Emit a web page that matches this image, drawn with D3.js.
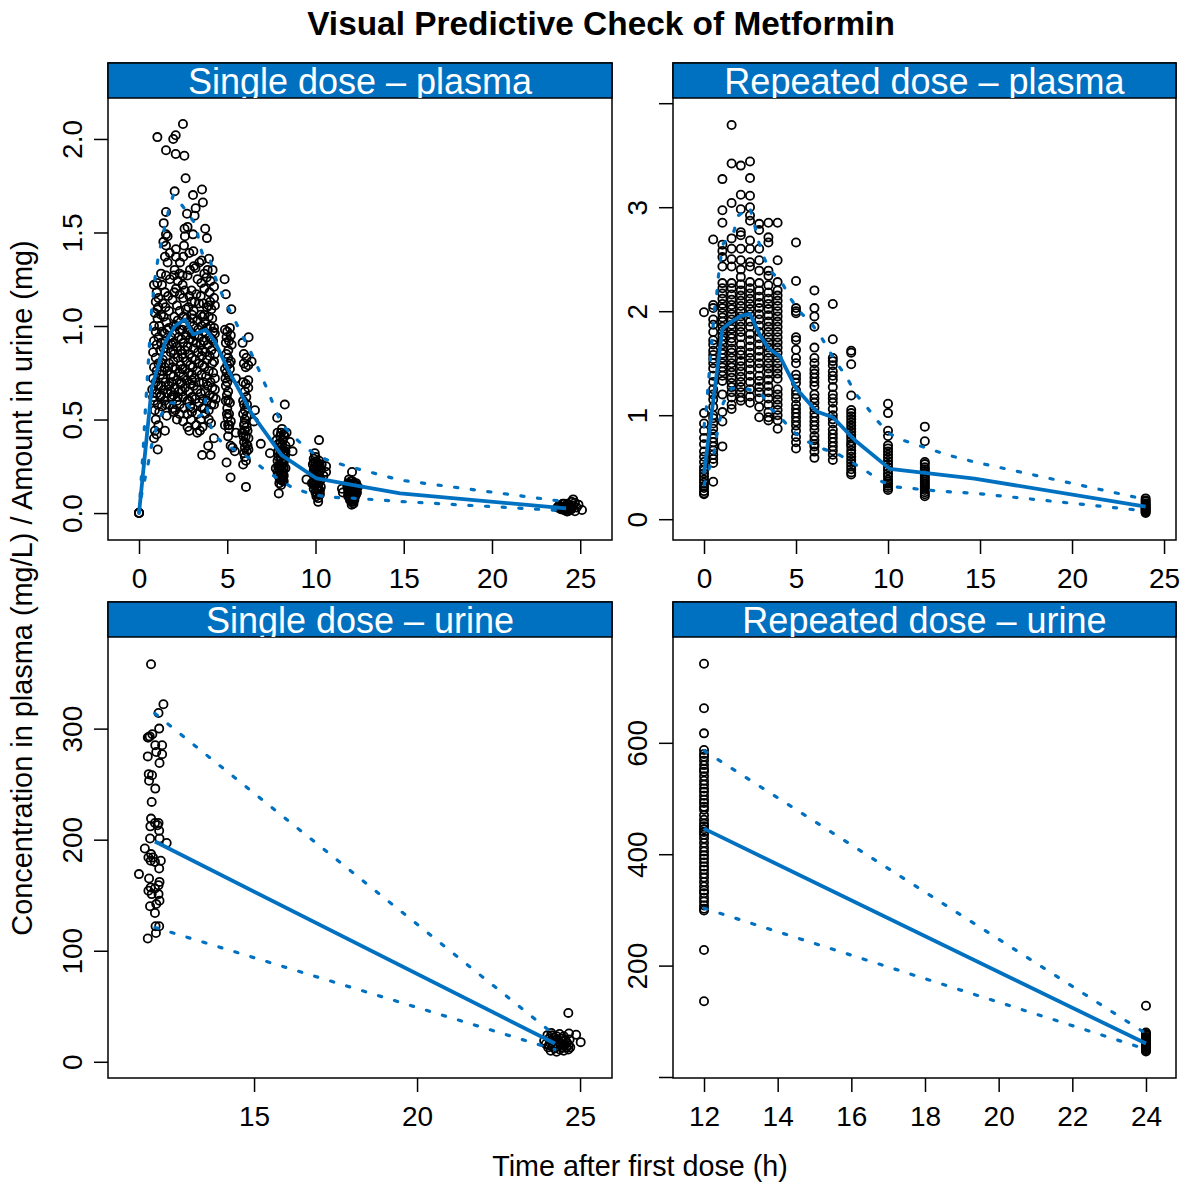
<!DOCTYPE html>
<html>
<head>
<meta charset="utf-8">
<script src="https://cdn.jsdelivr.net/npm/d3@7"></script>
<style>
  html, body { margin: 0; padding: 0; background: #fff; }
  text { font-family: "Liberation Sans", Arial, sans-serif; fill: #000; }
</style>
</head>
<body>
<svg id="chart" width="1186" height="1182"></svg>
<script>
const singlePlasmaObs = [
  [0,0],[0,0],[0,.002],[0,0],
  [2.49,2.08],[1.04,2.01],[2.08,2.02],[1.94,2.0],[1.53,1.94],[2.08,1.92],[2.57,1.91],[2.64,1.79],[2.02,1.72],[3.57,1.73],
  [3.06,1.7],[3.62,1.66],[3.21,1.63],[2.72,1.6],[3.15,1.59],[1.53,1.61],[1.4,1.55],[2.58,1.52],[2.75,1.53],[3.75,1.52],
  [3.06,1.49],[1.53,1.49],[1.62,1.48],[2.6,1.48],[3.85,1.47],[1.38,1.45],[1.53,1.43],[2.55,1.43],[2.09,1.41],[3.08,1.4],
  [2.85,1.39],[1.75,1.39],[1.47,1.37],[2.09,1.37],[2.51,1.37],[3.96,1.36],[3.55,1.35],[3.42,1.34],[2.32,1.34],[1.62,1.34],
  [3.11,1.32],[2.89,1.3],[2.02,1.3],[3.89,1.3],[4.17,1.3],[1.25,1.28],[1.53,1.27],[2.47,1.27],[1.98,1.27],[4.85,1.25],
  [3.32,1.25],[3.83,1.26],[1.04,1.23],[2.2,1.24],[2.47,1.22],[3.53,1.23],[4.25,1.21],[2.1,1.2],[3.7,1.2],[4.92,1.17],
  [1.47,1.18],[4.0,1.18],[2.32,1.17],[2.98,1.19],[3.25,1.17],[1.1,1.15],[2.5,1.15],[3.5,1.16],[4.25,1.15],[1.9,1.14],
  [4.03,1.13],[2.98,1.13],[3.4,1.12],[1.04,1.09],[1.5,1.1],[2.8,1.1],[3.85,1.1],[5.23,1.09],[.9,1.07],[2.3,1.08],[3.1,1.08],
  [.85,1.22],[1.0,1.18],[.95,1.13],[1.1,1.1],[1.05,1.04],[.85,1.0],[1.15,1.0],[.95,.97],[1.1,.94],[.85,.92],[1.0,.9],[.8,.86],
  [1.2,.87],[.95,.83],[1.1,.8],[.85,.78],[1.0,.76],[1.2,.74],[.8,.72],[.95,.7],[1.1,.68],[.75,.66],[1.0,.64],[1.2,.62],[.85,.6],
  [1.05,.58],[.9,.55],[1.15,.54],[.95,.5],[1.1,.47],[.9,.44],[1.0,.42],[.85,.4],[1.06,.34],[.8,.62],
  [1.4,1.05],[1.55,1.02],[1.7,.99],[1.45,.96],[1.8,.94],[1.5,.92],[1.65,.9],[1.4,.88],[1.8,.86],[1.55,.84],[1.35,.82],[1.7,.8],
  [1.45,.78],[1.6,.76],[1.8,.74],[1.35,.72],[1.5,.7],[1.7,.68],[1.4,.66],[1.6,.64],[1.85,.62],[1.45,.6],[1.7,.58],[1.3,.57],
  [1.57,.52],[1.47,.44],[1.9,.56],
  [2.0,1.05],[2.2,1.03],[1.95,1.0],[2.3,.98],[2.05,.96],[2.25,.94],[1.95,.91],[2.15,.89],[2.35,.87],[2.0,.85],[2.2,.83],[1.95,.81],
  [2.35,.79],[2.1,.77],[2.3,.75],[1.95,.73],[2.15,.71],[2.35,.69],[2.0,.67],[2.25,.65],[1.95,.63],[2.15,.6],[2.3,.58],[2.05,.55],
  [2.3,.53],[2.15,.5],[1.95,.54],
  [2.5,1.05],[2.7,1.04],[2.9,1.02],[2.55,1.0],[2.8,.98],[2.65,.95],[2.9,.93],[2.5,.91],[2.75,.89],[2.6,.87],[2.85,.85],[2.5,.83],
  [2.7,.81],[2.9,.79],[2.6,.77],[2.8,.75],[2.5,.73],[2.7,.71],[2.9,.69],[2.6,.67],[2.8,.65],[2.5,.62],[2.75,.6],[2.9,.57],[2.55,.56],
  [2.75,.53],[2.5,.49],[2.75,.46],[2.95,.5],[3.0,.54],[2.85,.44],
  [3.05,1.04],[3.3,1.03],[3.5,1.06],[3.1,1.0],[3.35,.98],[3.55,1.0],[3.15,.95],[3.4,.94],[3.25,.91],[3.5,.9],[3.1,.88],[3.35,.86],
  [3.55,.84],[3.2,.82],[3.4,.8],[3.05,.78],[3.3,.76],[3.55,.74],[3.15,.72],[3.4,.7],[3.1,.68],[3.3,.66],[3.5,.64],[3.2,.61],[3.4,.59],
  [3.05,.56],[3.3,.53],[3.5,.5],[3.25,.47],[3.45,.44],[3.3,.43],[3.6,.46],
  [3.7,1.06],[3.95,1.05],[4.15,1.04],[3.75,1.02],[4.05,1.0],[4.25,.99],[3.8,.96],[4.0,.94],[3.7,.92],[4.2,.92],[3.9,.9],[4.1,.87],
  [3.75,.86],[4.0,.84],[4.3,.85],[3.85,.82],[4.15,.8],[3.7,.78],[3.95,.76],[4.2,.75],[3.8,.73],[4.05,.7],[3.9,.68],[4.15,.67],[3.75,.65],
  [4.0,.63],[4.2,.62],[4.35,.61],[3.85,.6],[4.1,.58],[3.95,.55],[3.75,.53],[4.08,.48],[3.95,.5],[4.25,.4],[3.92,.36],[3.58,.31],[4.06,.31],[3.7,.56],
  [4.87,.98],[5.15,.99],[5.0,.97],[4.96,.94],[5.2,.95],[5.1,.92],[4.92,.91],[5.06,.87],[5.25,.9],[5.2,.81],[5.05,.83],[4.87,.77],
  [5.15,.77],[4.96,.75],[5.49,.72],[5.0,.7],[4.92,.68],[5.05,.65],[4.98,.63],[4.92,.6],[5.15,.59],[5.0,.56],[5.1,.53],[5.02,.51],
  [4.87,.47],[5.2,.49],[5.05,.47],[5.1,.45],[5.49,.43],[5.19,.36],[5.43,.33],[5.3,.35],[4.96,.27],[5.19,.19],
  [6.21,.94],[5.87,.91],[5.94,.85],[6.09,.83],[6.38,.81],[5.94,.8],[6.19,.79],[6.05,.78],[6.19,.71],[5.9,.7],[6.05,.69],[6.19,.67],
  [6.0,.65],[6.57,.55],[5.95,.58],[6.0,.55],[5.9,.53],[6.1,.52],[6.0,.5],[6.51,.49],[5.95,.47],[6.1,.46],[6.0,.44],[5.85,.43],[6.05,.41],
  [6.2,.4],[5.95,.38],[6.15,.36],[6.1,.33],[6.2,.34],[6.06,.28],[5.9,.26],[6.0,.3],[6.06,.14],[6.9,.37],[7.42,.32],
  [8.26,.58],[7.83,.51],[8.36,.43],[7.85,.43],[8.1,.45],[8.2,.42],[8.0,.41],[7.8,.39],[8.15,.39],[8.55,.38],[8.0,.37],[8.3,.36],[7.95,.35],
  [8.1,.34],[8.3,.33],[8.7,.33],[8.0,.32],[8.15,.31],[7.9,.3],[8.25,.29],[8.05,.28],[8.2,.27],[7.95,.26],[8.1,.25],[8.3,.24],[7.75,.24],
  [7.95,.23],[8.15,.22],[8.05,.21],[7.85,.22],[8.2,.2],[8.0,.19],[8.1,.18],[8.15,.17],[7.95,.16],[8.05,.15],[7.92,.105],
  [10.2,.39],[9.96,.32],[10.0,.3],[9.9,.29],[10.2,.28],[10.0,.27],[10.35,.26],[9.85,.26],[10.6,.25],[10.15,.25],[9.95,.24],[10.3,.23],
  [10.6,.22],[10.05,.22],[9.85,.21],[10.2,.2],[10.45,.2],[10.0,.19],[9.49,.18],[10.3,.18],[9.9,.17],[10.15,.16],[9.8,.16],[10.0,.15],[10.3,.14],
  [9.9,.13],[10.15,.12],[10.0,.11],[10.25,.1],[10.05,.09],[10.15,.08],[10.15,.06],
  [12.07,.22],[11.9,.18],[12.1,.17],[12.3,.16],[11.85,.16],[12.0,.15],[12.2,.15],[12.4,.14],[11.8,.14],[11.95,.14],[12.1,.13],[12.3,.13],
  [11.5,.13],[12.0,.12],[12.2,.12],[11.85,.12],[11.55,.11],[12.05,.11],[12.35,.11],[11.9,.1],[12.15,.1],[12.0,.09],[12.25,.09],[11.85,.09],
  [12.1,.08],[11.95,.07],[12.2,.07],[12.05,.06],[12.15,.05],[12.05,.045],
  [23.7,.03],[23.8,.04],[23.9,.02],[24,.05],[24,.03],[24.1,.015],[24.2,.04],[24.2,.025],[24.3,.01],[24.3,.05],[24.4,.03],[24.4,.015],
  [24.5,.06],[24.5,.02],[24.6,.073],[24.6,.04],[24.7,.055],[24.7,.01],[24.8,.03],[24.9,.045],[25.1,.016],[23.9,.035],[24.1,.05],[24.25,.008]
];
// second pass over the crowded parts of the same panel
const singlePlasmaDense = [
  [1.3,1.22],[1.75,1.25],[2.3,1.28],[2.75,1.27],[3.2,1.31],[3.7,1.28],[4.05,1.24],[1.35,1.12],[1.65,1.16],[2.0,1.18],[2.6,1.19],[2.85,1.16],
  [3.15,1.13],[3.65,1.12],[4.1,1.09],[4.3,1.11],[1.25,1.06],[1.7,1.08],[2.15,1.11],[2.65,1.09],[3.0,1.06],[3.6,1.05],[3.95,1.11],
  [1.3,.97],[1.6,.98],[2.1,1.0],[2.45,.98],[3.0,.96],[3.65,.97],[3.85,.99],[4.3,.96],[1.25,.91],[1.85,.9],[2.4,.93],[3.05,.92],[3.65,.92],
  [4.2,.97],[1.25,.8],[1.95,.87],[2.45,.85],[3.0,.83],[3.6,.87],[4.1,.93],[1.3,.76],[1.9,.78],[2.45,.77],[3.0,.74],[3.6,.79],[4.25,.81],
  [1.25,.68],[1.85,.7],[2.4,.7],[3.0,.71],[3.65,.7],[4.3,.72],[1.25,.63],[1.8,.65],[2.45,.65],[3.0,.62],[3.6,.61],[4.3,.66],[1.55,.58],[2.2,.62],
  [2.85,.6],[3.6,.56],[4.25,.58],[4.95,.85],[5.12,.8],[5.0,.79],[5.1,.73],[4.9,.72],[5.05,.6],[4.98,.53],[5.12,.47],[5.05,.41],
  [6.08,.62],[5.9,.6],[6.12,.58],[5.98,.48],[6.15,.44],[5.92,.41],[6.08,.37],[6.0,.35],[5.95,.32],
  [8.05,.43],[8.25,.41],[7.9,.37],[8.1,.36],[7.88,.33],[8.2,.33],[8.02,.3],[8.28,.31],[7.85,.28],[8.12,.27],[8.0,.25],[7.88,.25],[8.2,.24],[8.08,.23],
  [7.9,.2],[8.12,.2],[8.05,.18],[7.98,.18],[8.2,.17],[9.9,.27],[10.1,.27],[10.25,.25],[10.05,.24],[9.9,.23],[10.2,.22],[10.1,.21],[9.95,.2],[10.15,.19],
  [10.05,.17],[10.25,.17],[9.95,.15],[10.15,.14],[10.05,.13],[9.9,.15],[10.25,.12],[10.1,.1],
  [12.0,.17],[12.15,.16],[11.9,.15],[12.3,.15],[12.05,.14],[12.2,.13],[11.9,.13],[12.1,.12],[12.3,.12],[12.0,.11],[12.2,.11],[11.85,.1],[12.1,.1],[12.3,.1],
  [12.05,.09],[12.15,.08],[11.95,.08],[12.05,.07],[12.12,.06],[24,.02],[24.15,.03],[24.35,.04],[24.45,.025],[24.55,.03],[24.25,.02]
];
const repeatedPlasmaTimes = [0, .5, 1, 1.5, 2, 2.5, 3, 3.5, 4, 5, 6, 7, 8, 10, 12, 24];
const repeatedPlasmaObs = [
  [1.99,1.02,.92,.85,.78,.72,.65,.6,.55,.5,.47,.44,.41,.38,.35,.32,.3,.27,.25,.24],
  [2.69,2.06,2.03,1.92,1.87,1.8,1.72,1.68,1.62,1.58,1.54,1.5,1.45,1.38,1.32,1.25,1.2,1.15,1.08,1.0,.97,.92,.87,.82,.78,.74,.7,.66,.62,.58,.54,.36],
  [3.27,2.97,2.85,2.64,2.58,2.52,2.43,2.27,2.22,2.17,2.12,2.07,2.03,1.98,1.94,1.9,1.85,1.81,1.76,1.72,1.68,1.63,1.59,1.55,1.5,1.46,1.42,1.38,1.33,1.2,1.03,.94,.7],
  [3.79,3.42,3.04,2.7,2.6,2.5,2.43,2.27,2.22,2.16,2.11,2.06,2.02,1.97,1.92,1.87,1.83,1.78,1.74,1.7,1.64,1.6,1.55,1.5,1.46,1.41,1.36,1.31,1.27,1.22,1.17,1.1,1.06],
  [3.4,3.12,2.98,2.76,2.73,2.6,2.49,2.4,2.33,2.26,2.2,2.15,2.1,2.05,2.0,1.95,1.9,1.85,1.8,1.75,1.68,1.62,1.58,1.52,1.47,1.42,1.37,1.32,1.27,1.22,1.17,1.14],
  [3.44,3.28,3.11,3.0,2.92,2.87,2.68,2.6,2.47,2.43,2.28,2.22,2.17,2.12,2.07,2.02,1.97,1.9,1.85,1.78,1.72,1.66,1.6,1.55,1.5,1.44,1.38,1.32,1.25,1.18,1.12],
  [2.84,2.78,2.6,2.49,2.39,2.27,2.2,2.14,2.08,2.03,1.97,1.92,1.86,1.8,1.74,1.68,1.62,1.56,1.5,1.45,1.38,1.33,1.27,1.22,1.16,1.08,.98],
  [2.85,2.71,2.66,2.39,2.34,2.25,2.18,2.12,2.07,2.02,1.96,1.9,1.85,1.8,1.75,1.7,1.65,1.6,1.55,1.5,1.45,1.4,1.34,1.28,1.22,1.16,1.1,1.03,.98,.95],
  [2.85,2.49,2.28,2.2,2.15,2.1,2.05,2.0,1.95,1.9,1.85,1.8,1.75,1.7,1.65,1.6,1.55,1.5,1.45,1.4,1.35,1.25,1.2,1.15,1.1,1.05,1.0,.95,.87],
  [2.66,2.29,2.03,2.0,1.98,1.75,1.72,1.63,1.55,1.5,1.39,1.35,1.31,1.24,1.2,1.16,1.1,1.06,1.02,.98,.94,.9,.85,.79,.74,.68],
  [2.2,2.03,1.95,1.85,1.65,1.55,1.5,1.44,1.4,1.36,1.32,1.28,1.2,1.16,1.12,1.07,1.02,.98,.94,.9,.86,.8,.76,.72,.7,.65,.59],
  [2.07,1.73,1.55,1.52,1.48,1.42,1.38,1.34,1.27,1.2,1.16,1.12,1.06,1.0,.96,.92,.86,.82,.78,.74,.7,.66,.62,.57],
  [1.62,1.6,1.49,1.19,1.05,1.02,.99,.96,.93,.9,.87,.84,.81,.78,.75,.72,.7,.66,.63,.6,.57,.54,.51,.48,.45,.43],
  [1.11,1.02,.85,.8,.71,.68,.65,.62,.59,.56,.53,.5,.47,.44,.41,.38,.36,.34,.32,.3,.28],
  [.89,.75,.55,.53,.5,.48,.46,.44,.42,.4,.38,.36,.34,.32,.3,.28,.26,.24,.22],
  [.2,.18,.17,.15,.14,.13,.12,.11,.1,.09,.08,.07,.06]
];
const singleUrineObs = [
  [11.84,358],[12.22,322],[12.07,314],[12.09,300],[11.76,292],[11.74,292],[11.8,293],[11.88,295],[11.97,285],[12.18,285],
  [12.0,279],[12.18,277],[11.74,275],[12.1,269],[11.77,259],[11.87,258],[11.78,253],[11.97,246],[11.86,234],[11.84,219],
  [11.96,215],[12.07,215],[11.82,212],[12.04,213],[12.09,208],[11.81,201],[12.1,201],[12.32,197],[11.65,192],[11.84,187],
  [11.76,184],[11.9,184],[11.83,181],[12.14,181],[11.96,180],[12.09,174],[11.47,169],[11.78,165],[12.1,162],[12.07,159],
  [11.83,157],[11.96,156],[11.76,154],[11.86,151],[12.07,151],[12.1,145],[12.0,142],[11.81,140],[11.96,134],[11.98,122],
  [12.09,122],[11.99,116],[11.74,111],
  [24.64,44],[24.66,25.5],[24.88,24.3],[25.02,17.7],[24.64,11],[24.37,25],[24.5,23],[23.9,19],[23.95,16],[24.0,24],
  [24.02,13],[24.05,21],[24.08,17],[24.1,10],[24.12,26],[24.15,14],[24.18,19],[24.2,22],[24.22,12],[24.25,16],
  [24.28,9],[24.3,20],[24.33,14],[24.35,18],[24.38,11],[24.4,16],[24.42,21],[24.45,13],[24.48,18],[24.5,10],
  [24.52,15],[24.55,20],[24.58,13],[24.6,17],[24.65,15],[24.68,20],[24.7,13],[24.05,15],[24.15,24],[24.28,23]
];
const repeatedUrineTimes = [12, 24];
const repeatedUrineObs = [
  [742,662,617,587,580,575,568,560,553,548,540,532,525,518,512,505,498,492,485,480,470,462,455,450,445,440,435,428,420,412,405,398,392,385,378,372,365,358,350,342,335,330,322,315,308,302,299,228,136],
  [128,80,77,75,72,70,68,66,64,62,60,58,56,54,52,50,48,46]
];

// prediction lines: median, upper and lower bound
const spMedianT = [0,.72,1.47,2.04,2.6,3.07,3.79,4.3,5.06,6.38,8.08,10.06,12.4,14.8,24.2];
const spMedian = [0,.67,.91,1.0,1.035,.955,.98,.916,.765,.533,.31,.185,.145,.105,.025];
const spUpperT = [0,.25,.34,.53,.72,.91,1.06,1.25,1.43,1.66,1.94,2.32,2.79,3.26,3.4,3.58,3.98,4.17,4.53,4.9,5.34,5.75,6.19,6.6,6.98,7.36,7.7,8.08,8.74,9.45,10.2,11.1,12.04,14.8,24.2];
const spUpper = [0,.36,.52,.81,1.09,1.26,1.35,1.44,1.52,1.61,1.7,1.66,1.6,1.535,1.445,1.39,1.38,1.295,1.21,1.125,1.05,.966,.89,.806,.724,.64,.56,.476,.41,.35,.3,.27,.245,.176,.06];
const spLowerT = [0,.15,.53,.72,.96,1.28,1.79,2.74,3.3,3.64,3.79,3.92,4.15,4.72,5.57,6.38,7.13,8.7,9.64,10.53,11.47,12.4,14.8,24.2];
const spLower = [0,.1,.27,.364,.45,.53,.59,.58,.515,.53,.62,.52,.43,.376,.33,.287,.23,.135,.105,.087,.082,.078,.062,.012];

const rpMedianT = [0,1,1.5,2.01,2.5,3.04,3.5,4.13,5,6.12,7,8.2,10.1,14.7,24];
const rpMedian = [.44,1.83,1.9,1.955,1.974,1.77,1.644,1.564,1.26,1.035,.98,.76,.484,.39,.12];
const rpUpperT = [0,.11,.56,.69,.78,.89,1.05,1.61,1.87,2.48,2.72,2.93,3.22,3.59,4.22,4.67,5.18,5.8,6.34,6.8,7.3,7.8,8.26,8.84,9.38,10,10.8,11.65,12.5,13.4,14.7,24];
const rpUpper = [.89,1.035,2.0,2.16,2.33,2.49,2.65,2.76,2.92,3.0,2.85,2.69,2.53,2.39,2.28,2.13,2.0,1.89,1.76,1.62,1.48,1.35,1.2,1.08,.955,.83,.76,.71,.66,.61,.55,.19];
const rpLowerT = [0,.54,.69,.87,1.05,1.5,1.96,2.4,3.1,3.59,4.22,4.86,5.58,6.4,7.25,8,8.8,9.56,10.38,11.3,12.2,13.1,14.7,24];
const rpLower = [.33,.63,.8,.96,1.12,1.26,1.25,1.25,1.21,1.07,.965,.84,.75,.68,.63,.55,.465,.37,.31,.295,.28,.266,.25,.08];

const urineLineT = [11.96, 24.23];
const suMedian = [198.3, 16.5];
const suUpper = [313.6, 24];
const suLower = [121, 11];
const ruLineT = [12, 24];
const ruMedian = [446, 60];
const ruUpper = [586, 78];
const ruLower = [303, 50];

// tick values, strip titles
const plasmaTimeTicks = [0, 5, 10, 15, 20, 25];
const spTicks = [0, .5, 1, 1.5, 2];
const rpTicks = [0, 1, 2, 3, 4];
const suTimeTicks = [15, 20, 25];
const suTicks = [0, 100, 200, 300];
const ruTimeTicks = [12, 14, 16, 18, 20, 22, 24];
const ruTicks = [0, 200, 400, 600];

const BLUE = "#0070c0";

function flatten(times, groups) {
  return groups.flatMap((g, i) => g.map((v) => [times[i], v]));
}

const panels = [
  { title: "Single dose \u2013 plasma", left: 108, width: 504, top: 63, bottom: 540,
    xDomain: [-1.757, 26.8], yDomain: [-.144, 2.219], xTicks: plasmaTimeTicks, yTicks: spTicks,
    yFmt: (d) => d3.format(".1f")(d), obs: singlePlasmaObs.concat(singlePlasmaDense),
    med: [spMedianT, spMedian], up: [spUpperT, spUpper], lo: [spLowerT, spLower] },
  { title: "Repeated dose \u2013 plasma", left: 673, width: 503, top: 63, bottom: 540,
    xDomain: [-1.685, 25.65], yDomain: [-.2, 4.05], xTicks: plasmaTimeTicks, yTicks: rpTicks,
    yFmt: (d) => (d === 4 ? "" : d), obs: flatten(repeatedPlasmaTimes, repeatedPlasmaObs),
    med: [rpMedianT, rpMedian], up: [rpUpperT, rpUpper], lo: [rpLowerT, rpLower] },
  { title: "Single dose \u2013 urine", left: 108, width: 504, top: 602, bottom: 1078,
    xDomain: [10.52, 25.98], yDomain: [-14.6, 382.5], xTicks: suTimeTicks, yTicks: suTicks,
    yFmt: (d) => d, obs: singleUrineObs,
    med: [urineLineT, suMedian], up: [urineLineT, suUpper], lo: [urineLineT, suLower] },
  { title: "Repeated dose \u2013 urine", left: 673, width: 503, top: 602, bottom: 1078,
    xDomain: [11.158, 24.815], yDomain: [-1.8, 790], xTicks: ruTimeTicks, yTicks: ruTicks,
    yFmt: (d) => (d === 0 ? "" : d), obs: flatten(repeatedUrineTimes, repeatedUrineObs),
    med: [ruLineT, ruMedian], up: [ruLineT, ruUpper], lo: [ruLineT, ruLower] }
];

const STRIP_H = 35;
const TICK_LEN = 14;
const svg = d3.select("#chart");
const defs = svg.append("defs");

function drawPanel(p, i) {
  const plotTop = p.top + STRIP_H;
  const x = d3.scaleLinear().domain(p.xDomain).range([p.left, p.left + p.width]);
  const y = d3.scaleLinear().domain(p.yDomain).range([p.bottom, plotTop]);
  const g = svg.append("g").attr("class", "panel");

  const xAxis = g.append("g")
    .attr("transform", `translate(0,${p.bottom})`)
    .call(d3.axisBottom(x).tickValues(p.xTicks).tickSize(TICK_LEN).tickPadding(14));
  const yAxis = g.append("g")
    .attr("transform", `translate(${p.left},0)`)
    .call(d3.axisLeft(y).tickValues(p.yTicks).tickSize(TICK_LEN).tickFormat(p.yFmt));

  xAxis.select(".domain").remove();
  yAxis.select(".domain").remove();
  g.selectAll(".tick line").attr("stroke", "#000").attr("stroke-width", 1.5);
  xAxis.selectAll("text").attr("font-size", 28).attr("dy", "0.71em");
  yAxis.selectAll("text")
    .attr("font-size", 28)
    .attr("text-anchor", "middle")
    .attr("dy", 0)
    .attr("transform", "rotate(-90)")
    .attr("x", 0)
    .attr("y", -26);

  g.append("g").selectAll("circle")
    .data(p.obs)
    .join("circle")
    .attr("cx", (d) => x(d[0]))
    .attr("cy", (d) => y(d[1]))
    .attr("r", 4.1)
    .attr("fill", "none")
    .attr("stroke", "#000")
    .attr("stroke-width", 1.8);

  const line = d3.line().x((d) => x(d[0])).y((d) => y(d[1]));
  const zip = ([ts, vs]) => ts.map((t, j) => [t, vs[j]]);

  [p.up, p.lo].forEach((s) => {
    g.append("path")
      .attr("d", line(zip(s)))
      .attr("fill", "none")
      .attr("stroke", BLUE)
      .attr("stroke-width", 3.2)
      .attr("stroke-linecap", "round")
      .attr("stroke-dasharray", "3.2 13.5");
  });
  g.append("path")
    .attr("d", line(zip(p.med)))
    .attr("fill", "none")
    .attr("stroke", BLUE)
    .attr("stroke-width", 3.8)
    .attr("stroke-linejoin", "round");

  g.append("rect")
    .attr("x", p.left).attr("y", p.top)
    .attr("width", p.width).attr("height", p.bottom - p.top)
    .attr("fill", "none").attr("stroke", "#000").attr("stroke-width", 1.5);

  // strip on top, its label is cut off at the lower edge
  defs.append("clipPath").attr("id", `strip-${i}`)
    .append("rect")
    .attr("x", p.left).attr("y", p.top)
    .attr("width", p.width).attr("height", STRIP_H);
  g.append("rect")
    .attr("x", p.left).attr("y", p.top)
    .attr("width", p.width).attr("height", STRIP_H)
    .attr("fill", BLUE).attr("stroke", "#000").attr("stroke-width", 1.5);
  g.append("text")
    .attr("clip-path", `url(#strip-${i})`)
    .attr("x", p.left + p.width / 2)
    .attr("y", p.top + 31)
    .attr("text-anchor", "middle")
    .attr("font-size", 36)
    .style("fill", "#fff")
    .text(p.title);
}

panels.forEach(drawPanel);

svg.append("text")
  .attr("x", 601).attr("y", 35)
  .attr("text-anchor", "middle")
  .attr("font-size", 33.4)
  .attr("font-weight", "bold")
  .text("Visual Predictive Check of Metformin");

svg.append("text")
  .attr("x", 640).attr("y", 1176)
  .attr("text-anchor", "middle")
  .attr("font-size", 28.7)
  .text("Time after first dose (h)");

svg.append("text")
  .attr("transform", "translate(32,588) rotate(-90)")
  .attr("text-anchor", "middle")
  .attr("font-size", 28.9)
  .text("Concentration in plasma (mg/L) / Amount in urine (mg)");
</script>
</body>
</html>
